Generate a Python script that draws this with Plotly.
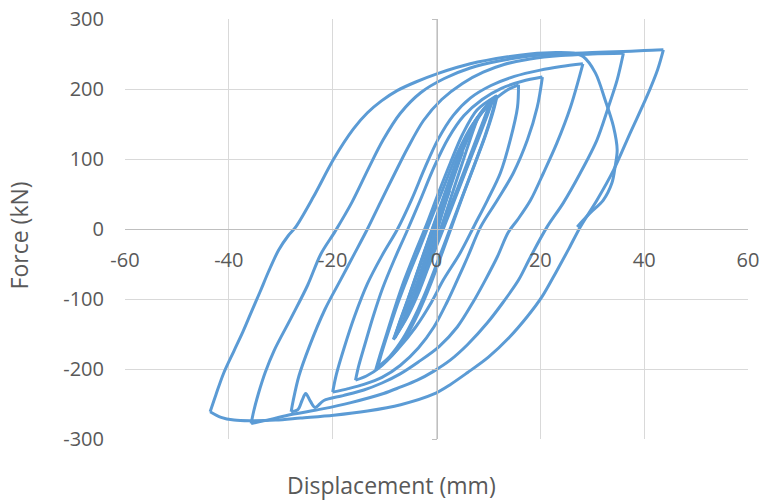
import plotly.graph_objects as go

# ---- Hysteresis data: displacement (mm) / force (kN), branch by branch ----
d_l0 = [0, 1.2, 2.5]
f_l0 = [0, 28, 55]
d_u1 = [2.5, 1.2, 0, -1.3, -2.5]
f_u1 = [55, 25, -5, -33, -60]
d_l1 = [-2.5, -1.5, -0.5, 1, 3, 5]
f_l1 = [-60, -35, -5, 30, 72, 110]
d_u2 = [5, 3.7, 2, 0.3, -1.5, -3, -4.5]
f_u2 = [110, 82, 45, 5, -35, -70, -105]
d_l2 = [-4.5, -3.5, -2, -0.6, 1.2, 3.3, 5.5, 8]
f_l2 = [-105, -80, -45, -5, 40, 85, 125, 160]
d_u3 = [8, 6.8, 5, 3, 1, -1.2, -3.2, -5, -6.5]
f_u3 = [160, 135, 95, 50, 5, -40, -80, -110, -135]
d_l3 = [-6.5, -5.5, -3.8, -2, -0.3, 1.5, 3.6, 5.8, 8, 10.5]
f_l3 = [-135, -112, -78, -38, 0, 40, 85, 125, 158, 183]
d_u4 = [10.5, 9.3, 7.5, 5.3, 3, 1, -1.3, -3.5, -5.5, -8]
f_u4 = [183, 160, 125, 82, 38, 0, -45, -88, -122, -155]
d_l4 = [-8, -7, -5.3, -3.3, -1.2, 0.8, 3, 5.2, 7.6, 11]
f_l4 = [-155, -133, -98, -55, -10, 30, 75, 118, 155, 187]
d_u4b = [11, 9.8, 8, 5.8, 3.4, 1.3, -1, -3.3, -5.6, -8.3]
f_u4b = [187, 163, 128, 86, 40, 0, -43, -88, -125, -158]
d_l4c = [-8.3, -7.1, -5.4, -3.4, -1.3, 0.7, 2.9, 5.1, 7.5, 10.8]
f_l4c = [-158, -134, -99, -56, -11, 30, 75, 118, 155, 185]
d_u4c = [10.8, 9.6, 7.8, 5.6, 3.2, 1.1, -1.2, -3.5, -5.8, -8.1]
f_u4c = [185, 162, 127, 84, 39, 0, -44, -88, -124, -156]
d_l4b = [-8.1, -7.2, -5.5, -3.5, -1.4, 0.6, 2.8, 5, 7.5, 9.8, 11.7]
f_l4b = [-156, -135, -100, -57, -12, 30, 75, 118, 155, 178, 191]
d_u5 = [11.7, 11, 9.5, 7.5, 5.2, 3, 0.8, -1.2, -3.5, -6, -8.5, -11.7]
f_u5 = [191, 170, 135, 95, 50, 5, -40, -80, -120, -155, -180, -201]
d_l5 = [-11.7, -11, -9.6, -8, -6.2, -4.2, -2, 0.3, 2.7, 5, 7.8, 11.5]
f_l5 = [-201, -183, -150, -112, -73, -35, 5, 50, 95, 135, 170, 190]
d_u5b = [11.5, 10.8, 9.3, 7.2, 4.9, 2.6, 0.3, -1.8, -4, -6.5, -9, -11.3]
f_u5b = [190, 168, 132, 90, 45, 0, -45, -85, -122, -157, -182, -197]
d_l5b = [-11.3, -10.6, -9.2, -7.5, -5.5, -3.3, -1, 1.5, 4, 7, 10.5, 13.5, 15.8]
f_l5b = [-197, -178, -145, -107, -68, -28, 15, 62, 108, 150, 180, 198, 206]
d_u6 = [15.8, 15.6, 14.2, 12.3, 9.8, 7.3, 4.5, 1.3, -1, -4, -7.5, -11, -13.5, -15.6]
f_u6 = [206, 174, 127, 80, 41, 5, -35, -73, -105, -140, -172, -198, -210, -216]
d_l6 = [-15.6, -15, -13.8, -12.2, -10.4, -8.2, -5.8, -3.2, -0.5, 2.3, 5.3, 8.8, 12.5, 16.5, 20.4]
f_l6 = [-216, -196, -165, -125, -85, -45, -5, 40, 88, 130, 162, 185, 201, 211, 217]
d_u7 = [20.4, 19.4, 17.5, 14.8, 11.7, 8.5, 6, 4, 2, -0.5, -3.5, -7, -10.5, -14, -17, -20]
f_u7 = [217, 174, 127, 80, 41, 3, -40, -73, -105, -140, -170, -195, -212, -222, -228, -233]
d_l7 = [-20, -19.3, -17.8, -15.8, -13.3, -10.5, -7.5, -4.8, -2.2, 0.3, 3.2, 6.5, 10.5, 15, 20, 24, 28.2]
f_l7 = [-233, -208, -170, -125, -78, -38, 0, 42, 88, 128, 162, 187, 205, 218, 227, 232, 236]
d_u8 = [28.2, 25.8, 23.2, 20.6, 18.1, 15.6, 13.8, 11.7, 9.4, 7, 4, 0.5, -3.5, -7, -10.5, -14, -18,
        -21.7, -23.4, -24.3, -25.2, -25.9, -26.7, -28]
f_u8 = [236, 174, 123, 80, 41, 13, -5, -40, -73, -105, -140, -168, -190, -207, -220, -230, -238,
        -245, -255, -246, -235, -245, -258, -261]
d_l8 = [-28, -27.6, -26.5, -24.5, -21.5, -18.5, -16, -13.3, -10.8, -8, -5.6, -2.5, 1, 5, 9, 13, 18, 24, 30, 36]
f_l8 = [-261, -245, -210, -168, -115, -73, -38, 0, 38, 80, 115, 155, 185, 208, 224, 235, 243, 248, 250, 251]
d_u9 = [36, 34.8, 33.1, 30.9, 27.7, 24.4, 21.3, 18.1, 15.8, 12.8, 9.8, 6, 2.7, -0.5, -3.7, -7, -10.2,
        -16.5, -22, -28, -32, -35.7]
f_u9 = [251, 213, 174, 127, 80, 37, 3, -40, -73, -105, -134, -165, -187, -203, -216, -226, -235,
        -248, -257, -265, -272, -278]
d_l9 = [-35.7, -35.2, -34.3, -33, -31.3, -28, -24.8, -22.3, -19.5, -16.3, -13, -10.3, -7, -3, 1.5,
        6.5, 12, 18, 24, 30, 36, 40, 43.7]
f_l9 = [-278, -260, -235, -205, -174, -127, -80, -36, -3, 38, 88, 127, 165, 195, 215,
        230, 240, 247, 250, 252, 253.5, 255, 256]
d_u10 = [43.7, 42.6, 40.5, 37.3, 34.1, 30.9, 27.7, 25.5, 23, 20.3, 17.5, 14, 10, 6, 2.7,
         -0.6, -6.9, -13.3, -19.8, -26.2, -31, -36, -39, -41.5, -43.6]
f_u10 = [256, 228, 189, 137, 84, 41, 3, -28, -62, -97, -125, -155, -183, -205, -222,
         -236, -251, -260, -266, -270, -273, -274, -273, -269, -261]
d_l10 = [-43.6, -42.5, -41, -39, -37.3, -35.8, -34, -32.3, -30.4, -28.6, -27.1, -23.7, -19.8, -16,
         -13.3, -10.6, -7.5, -4, 0.2, 6.5, 13.7, 18, 23, 26.5, 28.3, 30.6, 32.5, 34.1, 34.8, 34.4,
         33.8, 32.1, 29.6, 27.1]
f_l10 = [-261, -237, -206, -174, -147, -121, -90, -60, -30, -10, 3, 46, 100, 143,
         166, 183, 198, 210, 222, 236, 246, 250, 252, 251, 246, 223, 184, 146, 113, 89,
         66, 41, 23, 3]

x_ticks = [-60, -40, -20, 0, 20, 40, 60]
y_ticks = [-300, -200, -100, 0, 100, 200, 300]

branches = [
    (d_l0, f_l0), (d_u1, f_u1), (d_l1, f_l1), (d_u2, f_u2), (d_l2, f_l2), (d_u3, f_u3),
    (d_l3, f_l3), (d_u4, f_u4), (d_l4, f_l4), (d_u4b, f_u4b), (d_l4c, f_l4c), (d_u4c, f_u4c),
    (d_l4b, f_l4b), (d_u5, f_u5),
    (d_l5, f_l5), (d_u5b, f_u5b), (d_l5b, f_l5b), (d_u6, f_u6), (d_l6, f_l6), (d_u7, f_u7),
    (d_l7, f_l7), (d_u8, f_u8), (d_l8, f_l8), (d_u9, f_u9), (d_l9, f_l9), (d_u10, f_u10),
    (d_l10, f_l10),
]

LINE = "#5B9BD5"
GRID = "#D9D9D9"
AXIS = "#BFBFBF"
TXT = "#595959"
FONT = "Open Sans"

fig = go.Figure()
for d, f in branches:
    fig.add_trace(go.Scatter(
        x=d, y=f, mode="lines",
        line=dict(color=LINE, width=3, shape="spline", smoothing=0.9),
        showlegend=False, hoverinfo="skip"))

# invisible trace so the vertical axis at x=0 (with tick marks) is drawn
fig.add_trace(go.Scatter(x=[0], y=[0], yaxis="y2", mode="markers",
                         marker=dict(opacity=0), showlegend=False, hoverinfo="skip"))

fig.update_layout(
    width=762, height=502,
    margin=dict(l=125, r=14, t=19, b=63),
    paper_bgcolor="white", plot_bgcolor="white",
    font=dict(family=FONT, color=TXT),
    xaxis=dict(
        range=[-60, 60], tickvals=x_ticks, ticktext=[str(v) for v in x_ticks],
        anchor="free", position=0.5, automargin=False,
        showgrid=True, gridcolor=GRID, gridwidth=1,
        zeroline=False, showline=True, linecolor=AXIS, linewidth=1,
        ticks="", tickfont=dict(family=FONT, size=20, color=TXT),
        ticklabelstandoff=13,
    ),
    yaxis=dict(
        range=[-300, 300], tickvals=y_ticks, ticktext=[str(v) for v in y_ticks],
        automargin=False,
        showgrid=True, gridcolor=GRID, gridwidth=1,
        zeroline=False, showline=False,
        ticks="", tickfont=dict(family=FONT, size=20, color=TXT),
        ticklabelstandoff=20,
    ),
    yaxis2=dict(
        overlaying="y", anchor="free", position=0.5, side="left", automargin=False,
        range=[-300, 300], tickvals=y_ticks,
        showgrid=False, zeroline=False, showline=True, linecolor=AXIS, linewidth=1,
        ticks="outside", ticklen=5, tickcolor=AXIS, showticklabels=False,
    ),
    annotations=[
        dict(text="Displacement (mm)", xref="paper", yref="paper", x=0.4278, y=-0.11,
             xanchor="center", yanchor="middle", showarrow=False,
             font=dict(family=FONT, size=23, color=TXT)),
        dict(text="Force (kN)", xref="paper", yref="paper", x=-0.17, y=0.485,
             xanchor="center", yanchor="middle", textangle=-90, showarrow=False,
             font=dict(family=FONT, size=23, color=TXT)),
    ],
)

fig.write_html("out.html")
